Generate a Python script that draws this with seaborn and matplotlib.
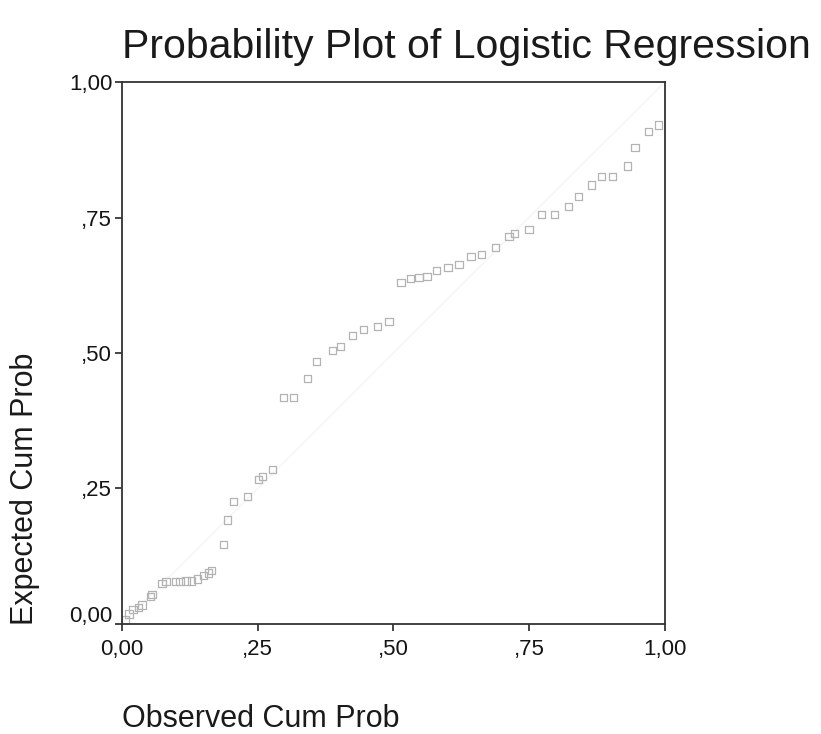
import numpy as np
import pandas as pd
import matplotlib
matplotlib.use("Agg")
import matplotlib.pyplot as plt
import matplotlib.transforms as mtransforms
import seaborn as sns

# observed vs expected cumulative probability
observed = [0.006, 0.013, 0.020, 0.030, 0.037, 0.052, 0.055, 0.074, 0.081, 0.098,
            0.107, 0.118, 0.128, 0.139, 0.150, 0.159, 0.165, 0.187, 0.194, 0.205,
            0.231, 0.251, 0.259, 0.277, 0.298, 0.316, 0.342, 0.359, 0.388, 0.403,
            0.425, 0.445, 0.471, 0.492, 0.514, 0.532, 0.547, 0.562, 0.580, 0.601,
            0.621, 0.643, 0.662, 0.688, 0.713, 0.723, 0.750, 0.773, 0.797, 0.823,
            0.841, 0.865, 0.884, 0.904, 0.932, 0.945, 0.970, 0.989]
expected = [0.007, 0.018, 0.026, 0.030, 0.035, 0.050, 0.054, 0.074, 0.078, 0.078,
            0.078, 0.079, 0.079, 0.083, 0.089, 0.094, 0.098, 0.146, 0.192, 0.226,
            0.235, 0.266, 0.272, 0.285, 0.418, 0.418, 0.453, 0.484, 0.505, 0.512,
            0.532, 0.543, 0.549, 0.558, 0.630, 0.638, 0.640, 0.641, 0.652, 0.658,
            0.664, 0.678, 0.682, 0.695, 0.715, 0.721, 0.728, 0.756, 0.756, 0.771,
            0.789, 0.810, 0.826, 0.826, 0.845, 0.880, 0.909, 0.921]

ticks = [0, 0.25, 0.5, 0.75, 1.0]
tick_labels = ["0,00", ",25", ",50", ",75", "1,00"]

df = pd.DataFrame({"obs": observed, "exp": expected})

sns.set_style("white")
plt.rcParams["font.family"] = ["Liberation Sans", "DejaVu Sans"]

fig = plt.figure(figsize=(8.21, 7.34), dpi=100)
ax = fig.add_axes([0.1486, 0.150, 0.661, 0.738])

# faint reference diagonal
ax.plot([0, 1], [0, 1], color="0.96", lw=1, zorder=1)

sns.scatterplot(data=df, x="obs", y="exp", ax=ax, marker="s", s=28,
                facecolors="none", edgecolors="0.7", linewidth=0.9, zorder=2)

ax.set_xlim(0, 1)
ax.set_ylim(0, 1)
ax.set_xticks(ticks)
ax.set_xticklabels(tick_labels)
ax.set_yticks(ticks)
ax.set_yticklabels(tick_labels)
ax.tick_params(axis="both", direction="out", length=5, width=1.2,
               labelsize=16, color="0.15", labelcolor="0.08",
               bottom=True, left=True)
ax.tick_params(axis="x", pad=6)
ax.tick_params(axis="y", pad=2)
# SPSS lifts the bottom y label off the corner
lbl0 = ax.get_yticklabels()[0]
lbl0.set_transform(lbl0.get_transform() +
                   mtransforms.ScaledTranslation(0, 10 / 100, fig.dpi_scale_trans))
for sp in ax.spines.values():
    sp.set_color("0.2")
    sp.set_linewidth(1.3)

ax.set_xlabel("")
ax.set_ylabel("")

fig.text(122 / 821, 1 - 58 / 734, "Probability Plot of Logistic Regression",
         fontsize=29.5, color="0.1", ha="left", va="baseline")
fig.text(122 / 821, 1 - 727 / 734, "Observed Cum Prob", fontsize=22,
         color="0.1", ha="left", va="baseline")
fig.text(10 / 821, 1 - 625 / 734, "Expected Cum Prob", fontsize=22,
         color="0.1", rotation=90, ha="left", va="bottom")

fig.savefig("out.png", dpi=100)
